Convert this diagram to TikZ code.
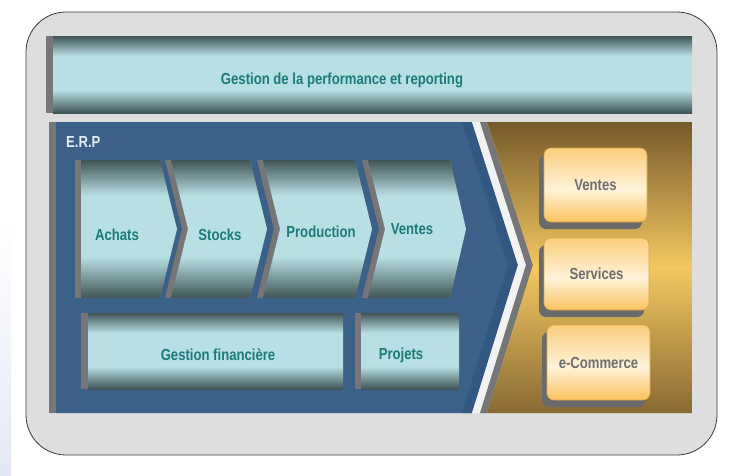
\documentclass[tikz,border=0pt]{standalone}
\usepackage{fontspec}
\usepackage{xcolor}
\usepackage{tikz}
\usetikzlibrary{shadows}
\newfontfamily\erpfont[FakeStretch=0.82]{Liberation Sans}
\definecolor{framegray}{HTML}{DEDEDE}
\definecolor{frameline}{HTML}{3A3A3A}
\definecolor{stripgray}{HTML}{767676}
\definecolor{erpblue}{HTML}{3B6188}
\definecolor{erpdeep}{HTML}{325780}
\definecolor{tealdark}{HTML}{3F5456}
\definecolor{teallight}{HTML}{B8E0E4}
\definecolor{tealtext}{HTML}{1C7A78}
\definecolor{golddark}{HTML}{76592B}
\definecolor{goldlight}{HTML}{F3C862}
\definecolor{boxgold}{HTML}{F8C25C}
\definecolor{boxcream}{HTML}{FFF3DA}
\definecolor{boxedge}{HTML}{D9A447}
\definecolor{boxtext}{HTML}{6E6E6E}
\definecolor{shadowgray}{HTML}{6A6A6A}
% the path spans 25bp..75bp of a shading
\pgfdeclareverticalshading{tealband}{100bp}{color(0bp)=(tealdark); color(25bp)=(tealdark); color(40bp)=(teallight); color(62bp)=(teallight); color(75bp)=(tealdark); color(100bp)=(tealdark)}
\pgfdeclareverticalshading{goldpanel}{100bp}{color(0bp)=(golddark!85!goldlight); color(25bp)=(golddark!85!goldlight); color(50bp)=(goldlight); color(75bp)=(golddark); color(100bp)=(golddark)}
\pgfdeclareverticalshading{goldcell}{100bp}{color(0bp)=(boxgold); color(25bp)=(boxgold); color(47bp)=(boxcream); color(75bp)=(boxgold!75!boxcream); color(100bp)=(boxgold!75!boxcream)}
\tikzset{erptext/.style={font=\erpfont\bfseries\fontsize{16}{18}\selectfont, text=tealtext, inner sep=0pt},
         goldbox/.style={draw=boxedge, line width=0.6pt, rounded corners=7pt, shading=goldcell,
                         drop shadow={shadow xshift=-5pt, shadow yshift=-7pt, fill=shadowgray, opacity=1},
                         minimum width=103pt, minimum height=74pt, inner sep=0pt,
                         font=\erpfont\bfseries\fontsize{16}{18}\selectfont, text=boxtext}}
% #1 left x, #2 notch depth, #3 right x, #4 tip depth
\newcommand{\erpchevron}[4]{%
  \fill[stripgray] (#1,-160) -- (#3,-160) -- (#3+#4,-229) -- (#3,-298) -- (#1,-298) -- (#1+#2,-229) -- cycle;
  \shade[shading=tealband] (#1+6,-160) -- (#3,-160) -- (#3+#4,-229) -- (#3,-298) -- (#1+6,-298) -- (#1+6+#2,-229) -- cycle;}

\begin{document}
\begin{tikzpicture}[x=1pt,y=1pt]
\useasboundingbox (0,0) rectangle (734,-475);
\shade[top color=white, bottom color={rgb,255:red,226;green,232;blue,245}] (0,-225) rectangle (11,-475);
% frame
\draw[frameline, fill=framegray, line width=0.8pt, rounded corners=40pt] (26,-12) rectangle (717,-455);
% top bar
\fill[stripgray] (46,-36) rectangle (53,-113);
\shade[shading=tealband] (53,-36) rectangle (692,-113);
\node[erptext] (perf) at (342,-80) {Gestion de la performance et reporting};
% ERP panel
\fill[stripgray] (49,-122) rectangle (56,-413);
\fill[erpblue] (56,-122) -- (472,-122) -- (518,-265) -- (472,-413) -- (56,-413) -- cycle;
\fill[erpdeep] (462,-122) -- (472,-122) -- (518,-265) -- (472,-413) -- (462,-413) -- (508,-265) -- cycle;
\fill[white!95!black] (472,-122) -- (480,-122) -- (526,-265) -- (480,-413) -- (472,-413) -- (518,-265) -- cycle;
\fill[stripgray] (480,-122) -- (487,-122) -- (533,-265) -- (487,-413) -- (480,-413) -- (526,-265) -- cycle;
\shade[shading=goldpanel] (487,-122) -- (692,-122) -- (692,-413) -- (487,-413) -- (533,-265) -- cycle;
\node[font=\erpfont\bfseries\fontsize{16}{18}\selectfont, text={rgb,255:red,228;green,236;blue,244}, anchor=west, inner sep=0pt] (erp) at (66,-142) {E.R.P};
% chevrons
\erpchevron{75}{0}{160}{17}
\erpchevron{165}{17}{250}{17}
\erpchevron{257}{17}{355}{17}
\erpchevron{362}{17}{450}{16}
\node[erptext] (achats) at (117,-235) {Achats};
\node[erptext] (stocks) at (220,-235) {Stocks};
\node[erptext] (production) at (321,-232) {Production};
\node[erptext] (ventes) at (412,-229) {Ventes};
% bottom boxes
\fill[stripgray] (81,-313) rectangle (88,-389);
\shade[shading=tealband] (88,-313) rectangle (343,-389);
\fill[stripgray] (355,-313) rectangle (361,-389);
\shade[shading=tealband] (361,-313) rectangle (459,-389);
\node[erptext] (finance) at (218,-355) {Gestion financière};
\node[erptext] (projets) at (401,-355) {Projets};
% channels
\node[goldbox] (cventes) at (595.5,-185) {Ventes};
\node[goldbox, minimum width=105pt, minimum height=72pt] (cservices) at (596.5,-274) {Services};
\node[goldbox, minimum width=103pt, minimum height=75pt] (ccommerce) at (598.5,-362.5) {e-Commerce};
\end{tikzpicture}
\end{document}
